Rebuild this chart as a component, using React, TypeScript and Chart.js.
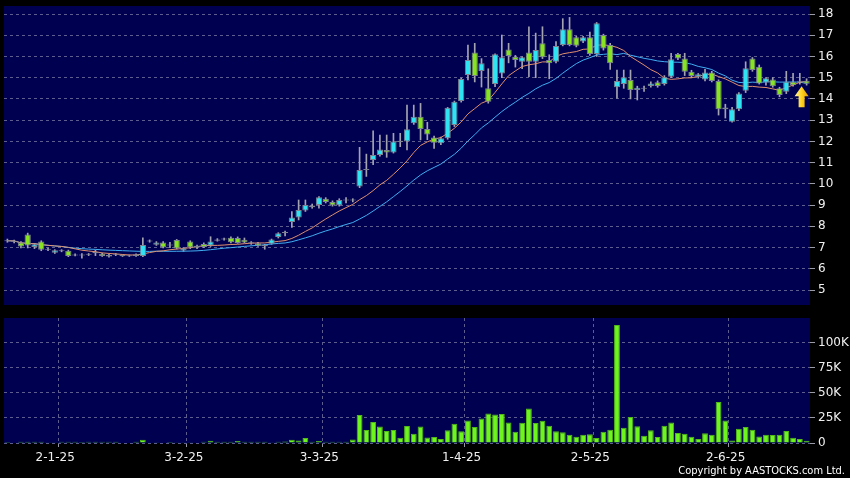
import React, { useEffect, useRef } from 'react';
import { Chart, registerables } from 'chart.js';
Chart.register(...registerables);

// Trading days (categories), by month
const dec24 = [18, 19, 20, 23, 24, 27, 30, 31];
const jan25 = [2, 3, 6, 7, 8, 9, 10, 13, 14, 15, 16, 17, 20, 21, 22, 23, 24, 27, 28];
const feb25 = [3, 4, 5, 6, 7, 10, 11, 12, 13, 14, 17, 18, 19, 20, 21, 24, 25, 26, 27, 28];
const mar25 = [3, 4, 5, 6, 7, 10, 11, 12, 13, 14, 17, 18, 19, 20, 21, 24, 25, 26, 27, 28, 31];
const apr25 = [1, 2, 3, 7, 8, 9, 10, 11, 14, 15, 16, 17, 22, 23, 24, 25, 28, 29, 30];
const may25 = [2, 6, 7, 8, 9, 12, 13, 14, 15, 16, 19, 20, 21, 22, 23, 26, 27, 28, 29, 30];
const jun25 = [2, 3, 4, 5, 6, 9, 10, 11, 12, 13, 16, 17];

const categories: string[] = [
  ...dec24.map((d) => `${d}-12-24`),
  ...jan25.map((d) => `${d}-1-25`),
  ...feb25.map((d) => `${d}-2-25`),
  ...mar25.map((d) => `${d}-3-25`),
  ...apr25.map((d) => `${d}-4-25`),
  ...may25.map((d) => `${d}-5-25`),
  ...jun25.map((d) => `${d}-6-25`),
];

const opens = [
  7.32, 7.30, 7.24, 7.62, 7.02, 7.28, 6.92, 6.75, 6.85, 6.85,
  6.65, 6.65, 6.68, 6.76, 6.71, 6.58, 6.68, 6.62, 6.61, 6.68,
  6.60, 7.28, 7.13, 7.24, 7.12, 7.35, 6.86, 7.28, 7.00, 7.17,
  7.10, 7.35, 7.40, 7.46, 7.45, 7.37, 7.22, 7.20, 7.09, 7.18,
  7.50, 7.71, 8.20, 8.42, 8.74, 8.98, 9.00, 9.30, 9.15, 8.99,
  9.24, 9.24, 9.87, 10.68, 11.12, 11.36, 11.60, 11.48, 12.00, 12.00,
  12.85, 13.16, 12.58, 12.18, 11.91, 12.15, 12.77, 13.90, 15.13, 16.19,
  15.31, 14.50, 14.70, 15.20, 16.33, 15.99, 15.75, 16.19, 15.75, 16.62,
  15.83, 15.75, 16.54, 17.28, 16.90, 16.71, 16.90, 16.12, 17.01, 16.54,
  14.55, 14.70, 14.89, 14.42, 14.50, 14.61, 14.78, 14.70, 15.05, 16.12,
  15.91, 15.28, 15.05, 14.92, 15.24, 14.84, 13.60, 12.93, 13.51, 14.39,
  15.91, 15.52, 14.77, 14.92, 14.50, 14.34, 14.81, 14.81, 14.86,
];
const highs = [
  7.40, 7.35, 7.28, 7.68, 7.20, 7.32, 6.98, 6.90, 6.90, 6.88,
  6.70, 6.72, 6.72, 6.88, 6.74, 6.68, 6.72, 6.66, 6.65, 6.70,
  7.46, 7.36, 7.28, 7.28, 7.25, 7.38, 7.00, 7.32, 7.12, 7.22,
  7.51, 7.42, 7.45, 7.50, 7.50, 7.45, 7.28, 7.25, 7.15, 7.40,
  7.70, 7.78, 8.69, 9.24, 9.24, 9.05, 9.40, 9.35, 9.20, 9.30,
  9.35, 9.30, 11.72, 11.40, 12.50, 12.30, 12.30, 12.38, 12.38, 13.71,
  13.71, 13.79, 12.90, 12.25, 12.20, 13.60, 13.90, 14.98, 16.54, 16.62,
  15.90, 15.42, 16.12, 17.01, 16.62, 16.05, 15.98, 17.40, 17.10, 17.40,
  16.08, 16.70, 17.78, 17.84, 16.95, 16.95, 17.15, 17.60, 17.05, 16.62,
  15.36, 15.36, 15.36, 14.60, 14.60, 14.80, 14.85, 15.10, 16.15, 16.15,
  16.15, 15.35, 15.20, 15.40, 15.30, 14.90, 13.75, 13.60, 14.30, 15.75,
  15.95, 15.60, 15.00, 15.00, 14.55, 15.30, 15.20, 15.20, 14.95,
];
const lows = [
  7.25, 7.22, 6.98, 6.98, 6.95, 6.85, 6.85, 6.72, 6.80, 6.57,
  6.60, 6.50, 6.62, 6.62, 6.58, 6.55, 6.62, 6.58, 6.58, 6.58,
  6.57, 7.25, 7.10, 6.98, 7.00, 6.93, 6.82, 6.95, 6.95, 7.00,
  7.05, 7.30, 7.35, 7.22, 7.20, 7.22, 7.15, 7.05, 6.92, 7.15,
  7.45, 7.55, 7.95, 8.30, 8.70, 8.85, 8.85, 9.10, 8.95, 8.95,
  9.10, 9.15, 9.82, 10.35, 10.90, 11.30, 11.25, 11.45, 11.75, 11.60,
  12.80, 12.07, 12.08, 11.67, 11.85, 12.10, 12.70, 13.85, 14.90, 14.80,
  14.56, 13.80, 14.58, 15.00, 15.70, 15.50, 15.42, 15.05, 15.00, 15.90,
  14.95, 15.70, 16.50, 16.50, 16.45, 16.65, 16.05, 16.00, 16.30, 15.39,
  14.03, 14.50, 14.00, 13.95, 14.35, 14.55, 14.55, 14.65, 15.00, 15.85,
  15.10, 15.00, 14.98, 14.85, 14.80, 13.24, 13.10, 12.90, 13.45, 14.30,
  15.30, 14.70, 14.65, 14.55, 14.10, 14.25, 14.60, 14.70, 14.65,
];
const closes = [
  7.32, 7.30, 7.05, 7.10, 7.15, 6.90, 6.92, 6.87, 6.85, 6.60,
  6.65, 6.65, 6.68, 6.76, 6.60, 6.65, 6.68, 6.62, 6.61, 6.60,
  7.12, 7.33, 7.24, 7.00, 7.12, 6.96, 6.97, 7.00, 7.08, 7.03,
  7.28, 7.35, 7.40, 7.25, 7.22, 7.24, 7.22, 7.09, 7.09, 7.38,
  7.67, 7.71, 8.42, 8.77, 9.00, 8.90, 9.37, 9.15, 8.99, 9.24,
  9.24, 9.24, 10.65, 10.68, 11.36, 11.62, 11.48, 11.99, 12.00, 12.57,
  13.16, 12.58, 12.33, 11.94, 12.15, 13.59, 13.87, 14.94, 15.83, 15.08,
  15.68, 13.87, 16.11, 15.96, 16.02, 15.83, 15.96, 15.75, 16.30, 15.96,
  15.68, 16.49, 17.28, 16.54, 16.51, 16.90, 16.12, 17.56, 16.38, 15.68,
  14.84, 15.02, 14.42, 14.53, 14.50, 14.73, 14.61, 15.02, 15.87, 15.91,
  15.28, 15.08, 15.16, 15.25, 14.84, 13.51, 13.51, 13.51, 14.26, 15.44,
  15.36, 14.73, 14.97, 14.60, 14.18, 14.81, 14.65, 14.86, 14.72,
];
// Volume in thousands of shares
const volumeK = [
  1.0, 0.6, 1.3, 1.3, 1.3, 1.3, 0.3, 0.3, 1.2, 1.2,
  1.2, 1.0, 1.2, 1.3, 1.2, 1.2, 1.3, 0.4, 0.5, 1.3,
  3.3, 0.4, 0.8, 0.4, 1.0, 0.3, 0.3, 0.3, 0.5, 1.2,
  2.3, 1.3, 1.3, 1.3, 2.0, 1.3, 1.3, 1.3, 1.3, 0.8,
  1.2, 1.4, 3.3, 2.6, 5.0, 1.3, 2.0, 1.2, 1.3, 1.2,
  1.3, 3.6, 28.0, 13.0, 21.0, 16.5, 12.0, 13.0, 5.3, 17.0,
  9.3, 16.5, 5.6, 6.0, 4.0, 12.6, 19.2, 11.6, 22.5, 16.0,
  24.5, 29.5, 28.5, 28.8, 20.5, 11.3, 20.2, 34.5, 20.0, 22.2,
  17.2, 11.6, 10.6, 8.3, 6.3, 8.3, 8.6, 5.0, 11.3, 13.3,
  117.6, 15.2, 25.8, 16.6, 7.3, 12.6, 6.0, 17.2, 20.5, 10.0,
  9.3, 6.3, 4.0, 9.6, 8.3, 40.8, 22.5, 2.6, 14.2, 16.0,
  13.3, 6.6, 8.3, 8.0, 8.3, 12.0, 5.3, 4.0, 2.3,
];
const priceTicks = [5, 6, 7, 8, 9, 10, 11, 12, 13, 14, 15, 16, 17, 18];
const volumeTicks = [0, 25, 50, 75, 100];

const NAVY = '#000050';
const GRID = '#5e5e8e';
const TICK = '#9a9aa6';
const TEXT = '#f0f0f0';
const UP = '#2fe3f2';
const DOWN = '#88e420';
const DOJI = '#a6a6b2';
const FONT = 'DejaVu Sans';

const monthOf = (c: string) => c.split('-')[1];
const monthStarts = categories
  .map((c, i) => (i > 0 && monthOf(c) !== monthOf(categories[i - 1]) ? i : -1))
  .filter((i) => i >= 0);

function sma(values: number[], n: number) {
  return values.map((_, i) => {
    const s = values.slice(Math.max(0, i - n + 1), i + 1);
    return s.reduce((a, b) => a + b, 0) / s.length;
  });
}

const bgPlugin = {
  id: 'bg',
  beforeDraw(chart: any) {
    const { ctx, chartArea: a, width, height } = chart;
    ctx.save();
    ctx.fillStyle = '#000';
    ctx.fillRect(0, 0, width, height);
    ctx.fillStyle = NAVY;
    ctx.fillRect(a.left, a.top, a.right - a.left, a.bottom - a.top);
    ctx.restore();
  },
};

const arrowPlugin = {
  id: 'arrow',
  afterDatasetsDraw(chart: any) {
    const { ctx } = chart;
    const x = chart.scales.x;
    const y = chart.scales.y;
    const last = closes.length - 1;
    const cx = x.getPixelForValue(last) - 5;
    const top = y.getPixelForValue(lows[last]) + 1;
    const g = ctx.createLinearGradient(cx - 7, 0, cx + 7, 0);
    g.addColorStop(0, '#fff4a8');
    g.addColorStop(0.5, '#ffd21e');
    g.addColorStop(1, '#e39a00');
    ctx.save();
    ctx.beginPath();
    ctx.moveTo(cx, top);
    ctx.lineTo(cx + 7, top + 10);
    ctx.lineTo(cx + 3, top + 10);
    ctx.lineTo(cx + 3, top + 21);
    ctx.lineTo(cx - 3, top + 21);
    ctx.lineTo(cx - 3, top + 10);
    ctx.lineTo(cx - 7, top + 10);
    ctx.closePath();
    ctx.fillStyle = g;
    ctx.fill();
    ctx.restore();
  },
};

const xGridTicks = (s: any) => {
  s.ticks = monthStarts.map((i) => ({ value: i - 0.5 }));
};
const noPad = (s: any) => {
  s.paddingTop = 0;
  s.paddingBottom = 0;
  s.paddingLeft = 0;
  s.paddingRight = 0;
};

export default function App() {
  const priceRef = useRef<HTMLCanvasElement>(null);
  const volRef = useRef<HTMLCanvasElement>(null);

  useEffect(() => {
    document.body.style.margin = '0';
    document.body.style.background = '#000';
    const ma10 = sma(closes, 10);
    const ma20 = sma(closes, 20);
    const bodies = opens.map((o, i) => {
      const c = closes[i];
      if (Math.abs(c - o) < 0.015) return [o - 0.025, o + 0.025];
      return [Math.min(o, c), Math.max(o, c)];
    });
    const bodyColors = opens.map((o, i) =>
      Math.abs(closes[i] - o) < 0.015 ? DOJI : closes[i] > o ? UP : DOWN
    );
    const wicks = lows.map((l, i) => [l, highs[i]]);

    const price = new Chart(priceRef.current!, {
      type: 'bar',
      data: {
        labels: categories,
        datasets: [
          {
            label: 'body',
            data: bodies as any,
            backgroundColor: bodyColors,
            borderColor: '#7c8290',
            borderWidth: 1,
            borderSkipped: false,
            barPercentage: 0.92,
            categoryPercentage: 1,
            grouped: false,
            order: 0,
          } as any,
          {
            type: 'line',
            label: 'MA10',
            data: ma10,
            borderColor: '#e2906c',
            borderWidth: 1,
            pointRadius: 0,
            tension: 0,
            order: 1,
          } as any,
          {
            type: 'line',
            label: 'MA20',
            data: ma20,
            borderColor: '#40aef2',
            borderWidth: 1,
            pointRadius: 0,
            tension: 0,
            order: 1,
          } as any,
          {
            label: 'wick',
            data: wicks as any,
            backgroundColor: '#a4a4b0',
            barThickness: 1,
            grouped: false,
            order: 2,
          } as any,
        ],
      },
      options: {
        responsive: false,
        animation: false,
        events: [],
        layout: { padding: { left: 4, top: 6, right: 0, bottom: 7 } },
        plugins: { legend: { display: false }, tooltip: { enabled: false } },
        scales: {
          x: {
            afterBuildTicks: xGridTicks,
            afterFit: (s: any) => {
              s.height = 0;
              noPad(s);
            },
            grid: { color: GRID, drawTicks: false, offset: false },
            border: { display: false, dash: [3, 3] },
            ticks: { display: false, autoSkip: false },
          },
          y: {
            position: 'right',
            min: 4.294,
            max: 18.377,
            afterBuildTicks: (s: any) => {
              s.ticks = priceTicks.map((v) => ({ value: v }));
            },
            afterFit: (s: any) => {
              s.width = 40;
              noPad(s);
            },
            grid: { color: GRID, tickColor: TICK, tickLength: 5, tickBorderDash: [] },
            border: { display: false, dash: [3, 3] },
            ticks: {
              color: TEXT,
              padding: 3,
              font: { family: FONT, size: 12 },
              callback: (v: any) => String(v),
            },
          },
        },
      } as any,
      plugins: [bgPlugin, arrowPlugin],
    });

    const volume = new Chart(volRef.current!, {
      type: 'bar',
      data: {
        labels: categories,
        datasets: [
          {
            label: 'volume',
            data: volumeK,
            backgroundColor: '#6ef51e',
            borderColor: '#52b818',
            borderWidth: 1,
            borderSkipped: 'start',
            barPercentage: 0.86,
            categoryPercentage: 1,
          } as any,
        ],
      },
      options: {
        responsive: false,
        animation: false,
        events: [],
        layout: { padding: { left: 4, top: 6, right: 0, bottom: 0 } },
        plugins: { legend: { display: false }, tooltip: { enabled: false } },
        scales: {
          x: {
            afterBuildTicks: xGridTicks,
            afterFit: (s: any) => {
              s.height = 35;
              noPad(s);
            },
            grid: { color: GRID, tickColor: TICK, tickLength: 4, offset: false, tickBorderDash: [] },
            border: { display: false, dash: [3, 3] },
            ticks: {
              color: TEXT,
              autoSkip: false,
              maxRotation: 0,
              padding: 4,
              labelOffset: -3,
              font: { family: FONT, size: 12 },
              callback: (v: any) => categories[Math.round(v + 0.5)] ?? '',
            },
          },
          y: {
            position: 'right',
            min: 0,
            max: 124.6,
            afterBuildTicks: (s: any) => {
              s.ticks = volumeTicks.map((v) => ({ value: v }));
            },
            afterFit: (s: any) => {
              s.width = 40;
              noPad(s);
            },
            grid: { color: GRID, tickColor: TICK, tickLength: 5, tickBorderDash: [] },
            border: { display: false, dash: [3, 3] },
            ticks: {
              color: TEXT,
              padding: 3,
              font: { family: FONT, size: 12 },
              callback: (v: any) => (v === 0 ? '0' : `${v}K`),
            },
          },
        },
      } as any,
      plugins: [bgPlugin],
    });

    return () => {
      price.destroy();
      volume.destroy();
    };
  }, []);

  return (
    <div style={{ position: 'relative', width: 850, height: 478, background: '#000', overflow: 'hidden' }}>
      <canvas ref={priceRef} width={850} height={312} style={{ position: 'absolute', left: 0, top: 0, display: 'block' }} />
      <canvas ref={volRef} width={850} height={166} style={{ position: 'absolute', left: 0, top: 312, display: 'block' }} />
      <div
        style={{
          position: 'absolute',
          right: 5,
          top: 464,
          color: '#ffffff',
          font: `11px "DejaVu Sans Condensed", "${FONT}", sans-serif`,
          lineHeight: '13px',
          whiteSpace: 'nowrap',
        }}
      >
        Copyright by AASTOCKS.com Ltd.
      </div>
    </div>
  );
}
